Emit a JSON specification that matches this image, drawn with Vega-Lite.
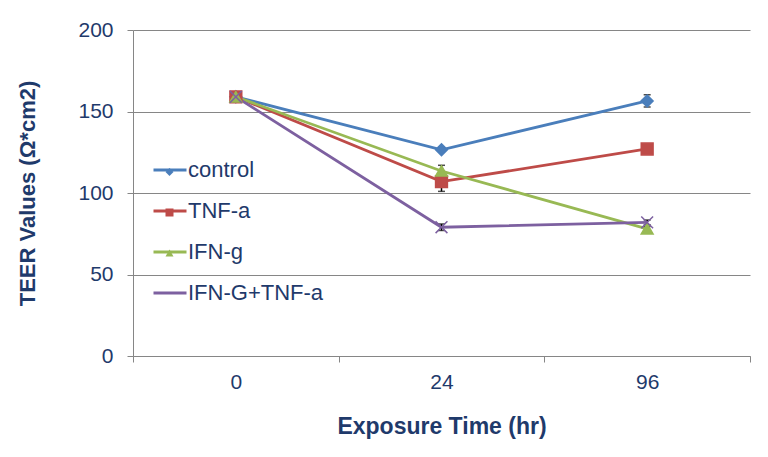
{
  "$schema": "https://vega.github.io/schema/vega-lite/v6.json",
  "width": 617,
  "height": 326,
  "autosize": {"type": "none"},
  "padding": {"left": 133, "top": 30, "right": 18, "bottom": 101},
  "background": "white",
  "config": {
    "view": {"stroke": null},
    "font": "Liberation Sans"
  },
  "data": {
    "values": [
      {"series": "control", "time": "0", "value": 159, "err": 1.5},
      {"series": "control", "time": "24", "value": 126.5, "err": 1.5},
      {"series": "control", "time": "96", "value": 156.5, "err": 3.8},
      {"series": "TNF-a", "time": "0", "value": 159, "err": 1.5},
      {"series": "TNF-a", "time": "24", "value": 107, "err": 6},
      {"series": "TNF-a", "time": "96", "value": 127, "err": 1.5},
      {"series": "IFN-g", "time": "0", "value": 159, "err": 1},
      {"series": "IFN-g", "time": "24", "value": 113.5, "err": 3.5},
      {"series": "IFN-g", "time": "96", "value": 78, "err": 1.5},
      {"series": "IFN-G+TNF-a", "time": "0", "value": 159, "err": 1},
      {"series": "IFN-G+TNF-a", "time": "24", "value": 79, "err": 2},
      {"series": "IFN-G+TNF-a", "time": "96", "value": 82, "err": 1.5}
    ]
  },
  "encoding": {
    "x": {
      "field": "time", "type": "ordinal", "sort": ["0", "24", "96"],
      "scale": {"paddingInner": 0, "paddingOuter": 0},
      "axis": {
        "title": "Exposure Time (hr)", "tickBand": "extent", "labelAngle": 0,
        "domainColor": "#868686", "tickColor": "#868686", "tickSize": 6,
        "labelFontSize": 21, "labelColor": "#1F3A6B", "labelPadding": 9,
        "titleFontSize": 23, "titleFontWeight": "bold", "titleColor": "#1F3A6B", "titlePadding": 23
      }
    },
    "y": {
      "field": "value", "type": "quantitative",
      "scale": {"domain": [0, 200]},
      "axis": {
        "title": "TEER Values (Ω*cm2)", "values": [0, 50, 100, 150, 200],
        "grid": true, "gridColor": "#868686", "domainColor": "#868686", "tickColor": "#868686", "tickSize": 6,
        "labelFontSize": 21, "labelColor": "#1F3A6B", "labelPadding": 14,
        "titleFontSize": 22, "titleFontWeight": "bold", "titleColor": "#1F3A6B", "titlePadding": 38
      }
    }
  },
  "layer": [
    {
      "mark": {"type": "line", "strokeWidth": 2.8},
      "encoding": {
        "stroke": {
          "field": "series", "type": "nominal",
          "sort": ["control", "TNF-a", "IFN-g", "IFN-G+TNF-a"],
          "scale": {"range": ["#4A7EBB", "#BE4B48", "#98B954", "#7D60A0"]},
          "legend": {
            "title": null, "orient": "none", "legendX": 19, "legendY": 122,
            "symbolType": "stroke", "symbolSize": 1089, "symbolStrokeWidth": 2.8,
            "labelFontSize": 22, "labelColor": "#1F3A6B", "labelOffset": 0,
            "rowPadding": 12, "padding": 0
          }
        }
      }
    },
    {
      "mark": {"type": "errorbar", "color": "black", "thickness": 1.5, "ticks": {"size": 7, "thickness": 1.5, "color": "black"}},
      "encoding": {
        "yError": {"field": "err"}
      }
    },
    {
      "mark": {"type": "point", "filled": true, "opacity": 1, "size": 140, "strokeWidth": 1.5},
      "encoding": {
        "color": {
          "field": "series", "type": "nominal",
          "scale": {
            "domain": ["control", "TNF-a", "IFN-g", "IFN-G+TNF-a"],
            "range": ["#4A7EBB", "#BE4B48", "#98B954", "#7D60A0"]
          },
          "legend": {
            "title": null, "orient": "none", "legendX": 31.5, "legendY": 137,
            "symbolSize": 64, "labelFontSize": 1, "labelOpacity": 0,
            "rowPadding": 31.5, "padding": 0,
            "encode": {
              "symbols": {
                "update": {
                  "stroke": {"scale": "color", "field": "value"},
                  "strokeWidth": {"value": 1.2}
                }
              }
            }
          }
        },
        "stroke": {
          "field": "series", "type": "nominal",
          "sort": ["control", "TNF-a", "IFN-g", "IFN-G+TNF-a"],
          "legend": null
        },
        "shape": {
          "field": "series", "type": "nominal",
          "scale": {
            "domain": ["control", "TNF-a", "IFN-g", "IFN-G+TNF-a"],
            "range": ["diamond", "square", "triangle-up", "M-1,-1L1,1M-1,1L1,-1"]
          },
          "legend": {
            "title": null, "orient": "none", "legendX": 31.5, "legendY": 137,
            "symbolSize": 64, "labelFontSize": 1, "labelOpacity": 0,
            "rowPadding": 31.5, "padding": 0
          }
        }
      }
    }
  ]
}
